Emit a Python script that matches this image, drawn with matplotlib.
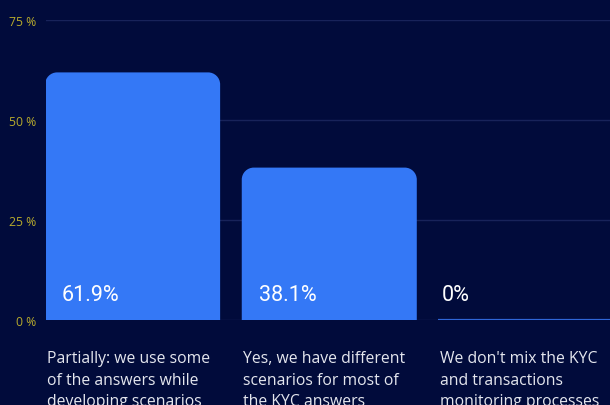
import matplotlib
matplotlib.use('Agg')
import matplotlib.pyplot as plt
from matplotlib.path import Path
from matplotlib.patches import PathPatch

categories = [
    "Partially: we use some\nof the answers while\ndeveloping scenarios",
    "Yes, we have different\nscenarios for most of\nthe KYC answers",
    "We don't mix the KYC\nand transactions\nmonitoring processes",
]
values = [61.9, 38.1, 0.0]
value_labels = ["61.9%", "38.1%", "0%"]
yticks = [0, 25, 50, 75]

BG = '#010b3b'
BAR = '#3478f6'
GRID = '#18235a'
TICK = '#b8ab2c'

W, H = 610, 406
fig = plt.figure(figsize=(W / 100, H / 100), dpi=100, facecolor=BG)
ax = fig.add_axes([45.5 / W, (H - 321) / H, (W - 45.5) / W, 300 / H])
ax.set_facecolor(BG)

slot = 196.5       # px per category
bar_w = 0.89
ax.set_xlim(-0.443, (W - 133) / slot)
ax.set_ylim(0, 75)


def rounded_bar(x0, w, h, rx, ry):
    """Bar path with rounded top corners (rx, ry in data units)."""
    if h <= 0:
        verts = [(x0, 0), (x0 + w, 0)]
        codes = [Path.MOVETO, Path.LINETO]
        return Path(verts, codes)
    ry = min(ry, h)
    k = 0.5523
    verts = [
        (x0, 0), (x0, h - ry),
        (x0, h - ry + k * ry), (x0 + rx - k * rx, h), (x0 + rx, h),
        (x0 + w - rx, h),
        (x0 + w - rx + k * rx, h), (x0 + w, h - ry + k * ry), (x0 + w, h - ry),
        (x0 + w, 0), (x0, 0),
    ]
    codes = [Path.MOVETO, Path.LINETO,
             Path.CURVE4, Path.CURVE4, Path.CURVE4,
             Path.LINETO,
             Path.CURVE4, Path.CURVE4, Path.CURVE4,
             Path.LINETO, Path.CLOSEPOLY]
    return Path(verts, codes)


# gridlines
for t in yticks:
    ax.axhline(t, color=GRID, lw=1, zorder=0)

rx = 12 / slot
ry = 12 / 4.0
for i, (v, lab) in enumerate(zip(values, value_labels)):
    x0 = i - bar_w / 2
    p = rounded_bar(x0, bar_w, v, rx, ry)
    ax.add_patch(PathPatch(p, facecolor=BAR, edgecolor='#2f66d8' if v == 0 else BAR,
                           lw=1.6 if v == 0 else 0, zorder=2))
    pad = 17 if v > 0 else 3
    ax.text(x0 + pad / slot, 6.3, lab, color='white', fontsize=15.5,
            family='Roboto', ha='left', va='center', zorder=3)
    ax.text(x0 + 1.5 / slot, -7.6, categories[i], color='#e4e6ee',
            fontsize=11.3, family='Open Sans', ha='left', va='top',
            linespacing=1.45, clip_on=False)

ax.set_yticks(yticks)
ax.set_yticklabels([f"{t} %" for t in yticks], color=TICK, fontsize=8.8,
                   family='Open Sans')
ax.tick_params(axis='y', length=0, pad=7)
ax.set_xticks([])
for s in ax.spines.values():
    s.set_visible(False)

fig.savefig('out.png', dpi=100, facecolor=BG)
